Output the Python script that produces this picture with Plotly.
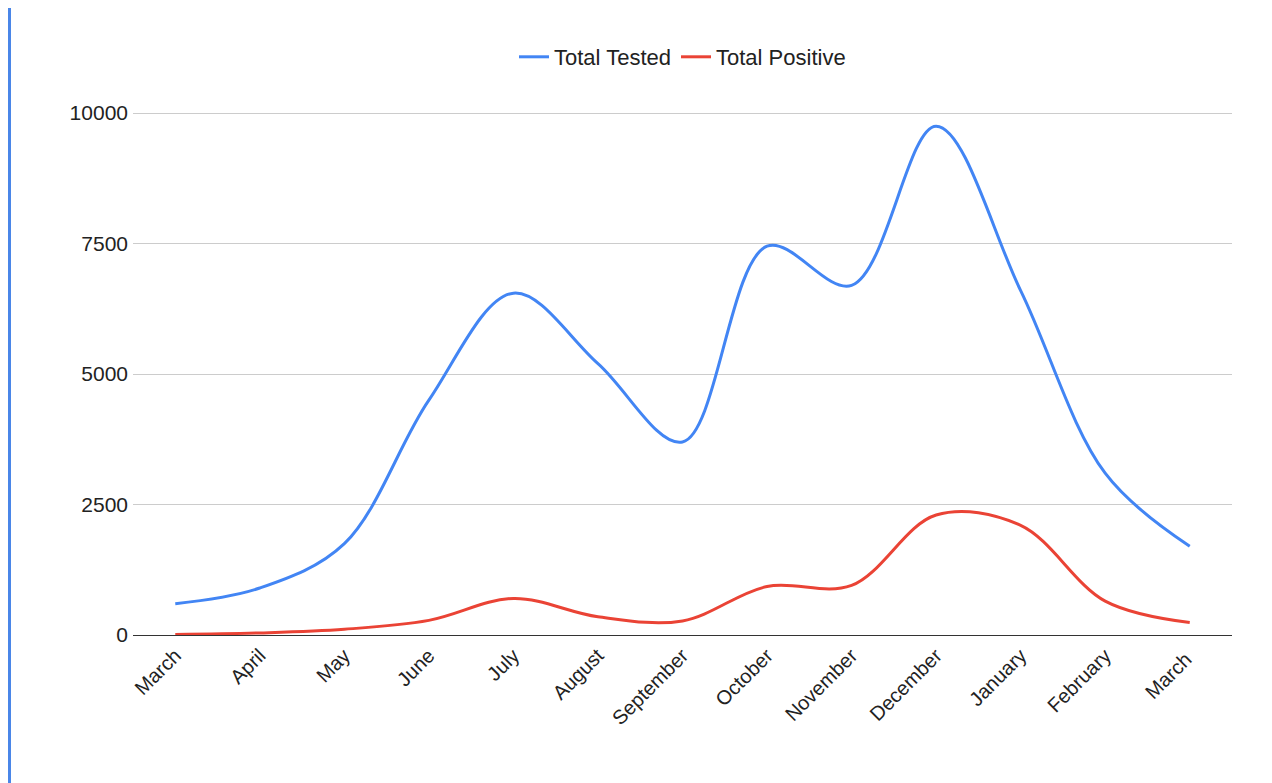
import plotly.graph_objects as go

months = ["March","April","May","June","July","August","September","October","November","December","January","February","March "]
tested = [600, 900, 1750, 4500, 6550, 5200, 3700, 7450, 6700, 9750, 6600, 3100, 1700]
positive = [10, 40, 110, 280, 700, 350, 270, 930, 950, 2300, 2100, 650, 240]

fig = go.Figure()
fig.add_trace(go.Scatter(x=months, y=tested, name="Total Tested", mode="lines",
                         line=dict(color="#4285F4", width=3, shape="spline", smoothing=1.0)))
fig.add_trace(go.Scatter(x=months, y=positive, name="Total Positive", mode="lines",
                         line=dict(color="#EA4335", width=3, shape="spline", smoothing=1.0)))

W, H = 1264, 775
off = 8
l, r, t, b = 133 - off, 40, 110 - off, 148
pw = W - l - r
ph = H - t - b
def px(x): return (x - l) / pw
def py(y): return 1 - (y - t) / ph

fig.update_layout(
    width=W, height=H, margin=dict(l=l, r=r, t=t, b=b),
    paper_bgcolor="white", plot_bgcolor="white",
    font=dict(family="Arial, Liberation Sans", size=21, color="#222"),
    legend=dict(orientation="h", x=0.5, xanchor="center", y=py(57 - off), yanchor="middle",
                font=dict(size=22)),
    xaxis=dict(tickangle=-45, showgrid=False, showline=True, linecolor="#333",
               range=[-0.5, 12.5], tickfont=dict(size=20)),
    yaxis=dict(range=[0, 10060], tickvals=[0, 2500, 5000, 7500, 10000],
               ticktext=["0", "2500", "5000", "7500", "10000"], ticklabelstandoff=4,
               gridcolor="#cccccc", zeroline=True, zerolinecolor="#333", tickfont=dict(size=21)),
    shapes=[
        dict(type="rect", xref="paper", yref="paper", x0=px(0), x1=px(3), y0=py(H), y1=py(0),
             fillcolor="#4a86e8", line_width=0, layer="above"),
    ],
)
fig.write_html("out.html")
